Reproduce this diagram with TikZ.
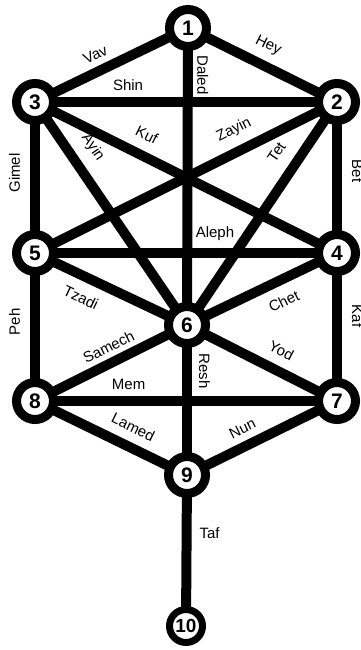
\documentclass[tikz,border=0pt]{standalone}
\usepackage{fontspec}
\setmainfont{Liberation Sans}
\usetikzlibrary{backgrounds}
\begin{document}
\begin{tikzpicture}[x=1pt,y=-1pt,
  sefira/.style={circle, draw=black, fill=white, line width=9pt, minimum size=37pt, inner sep=0pt, font=\fontsize{21}{21}\selectfont\bfseries},
  conn/.style={line width=10pt},
  lbl/.style={font=\fontsize{15}{15}\selectfont, text=black}]
\useasboundingbox (0,0) rectangle (360,650);
\node[sefira] (n1) at (188,28) {1};
\node[sefira] (n2) at (337,102) {2};
\node[sefira] (n3) at (35,102) {3};
\node[sefira] (n4) at (337,253) {4};
\node[sefira] (n5) at (35,253) {5};
\node[sefira] (n6) at (187,325) {6};
\node[sefira] (n7) at (337,401) {7};
\node[sefira] (n8) at (35,401) {8};
\node[sefira] (n9) at (187,475) {9};
\node[sefira, line width=7pt, minimum size=33pt, font=\fontsize{19}{19}\selectfont\bfseries] (n10) at (186,626) {10};
\begin{scope}[on background layer]
\draw[conn] (n3.center) -- node[lbl, sloped, above, inner sep=6pt, pos=0.44] {Vav} (n1.center);
\draw[conn] (n1.center) -- node[lbl, sloped, above, inner sep=8pt, pos=0.48] {Hey} (n2.center);
\draw[conn] (n1.center) -- node[lbl, rotate=-90, anchor=south, inner sep=4.5pt, pos=0.158] {Daled} (n6.center);
\draw[conn] (n3.center) -- node[lbl, above, inner sep=6pt, pos=0.308] {Shin} (n2.center);
\draw[conn] (n3.center) -- node[lbl, sloped, above, inner sep=10pt, pos=0.34] {Kuf} (n4.center);
\draw[conn] (n5.center) -- node[lbl, sloped, above, inner sep=9pt, pos=0.69] {Zayin} (n2.center);
\draw[conn] (n3.center) -- node[lbl, sloped, above, inner sep=10pt, pos=0.26] {Ayin} (n6.center);
\draw[conn] (n6.center) -- node[lbl, sloped, above, inner sep=12pt, pos=0.72] {Tet} (n2.center);
\draw[conn] (n3.center) -- node[lbl, rotate=90, anchor=south, inner sep=10pt, pos=0.47] {Gimel} (n5.center);
\draw[conn] (n2.center) -- node[lbl, rotate=-90, anchor=south, inner sep=10pt, pos=0.457] {Bet} (n4.center);
\draw[conn] (n5.center) -- node[lbl, above, inner sep=7pt, pos=0.596] {Aleph} (n4.center);
\draw[conn] (n5.center) -- node[lbl, sloped, below, inner sep=10pt, pos=0.36] {Tzadi} (n6.center);
\draw[conn] (n6.center) -- node[lbl, sloped, below, inner sep=10pt, pos=0.587] {Chet} (n4.center);
\draw[conn] (n5.center) -- node[lbl, rotate=90, anchor=south, inner sep=10pt, pos=0.466] {Peh} (n8.center);
\draw[conn] (n4.center) -- node[lbl, rotate=-90, anchor=south, inner sep=10pt, pos=0.426] {Kaf} (n7.center);
\draw[conn] (n8.center) -- node[lbl, sloped, above, inner sep=5pt, pos=0.53] {Samech} (n6.center);
\draw[conn] (n6.center) -- node[lbl, sloped, above, inner sep=9pt, pos=0.57] {Yod} (n7.center);
\draw[conn] (n8.center) -- node[lbl, above, inner sep=6pt, pos=0.31] {Mem} (n7.center);
\draw[conn] (n6.center) -- node[lbl, rotate=-90, anchor=south, inner sep=7pt, pos=0.307] {Resh} (n9.center);
\draw[conn] (n8.center) -- node[lbl, sloped, above, inner sep=9pt, pos=0.59] {Lamed} (n9.center);
\draw[conn] (n9.center) -- node[lbl, sloped, above, inner sep=7pt, pos=0.42] {Nun} (n7.center);
\draw[conn] (n9.center) -- node[lbl, anchor=west, inner sep=8pt, pos=0.384] {Taf} (n10.center);
\end{scope}
\end{tikzpicture}
\end{document}
